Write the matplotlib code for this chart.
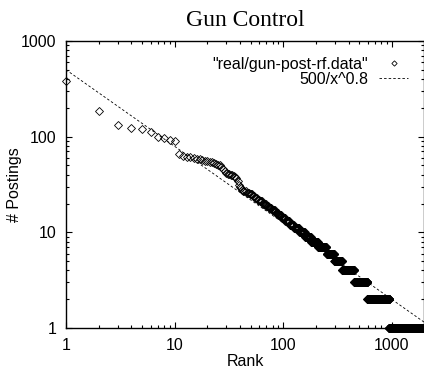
import numpy as np
import matplotlib
matplotlib.use("Agg")
import matplotlib.pyplot as plt
from matplotlib.ticker import LogLocator, NullFormatter, FixedFormatter, FixedLocator

# Postings for the 42 most active posters (rank 1 .. 42)
top_counts = [380, 185, 133, 122, 120, 111, 98, 96, 93, 91,
              66, 63, 62, 61, 60, 59, 58, 57, 56, 55,
              54, 54, 53, 52, 51, 50, 48, 46, 44, 42,
              41, 41, 40, 40, 39, 38, 37, 34, 31, 30,
              29, 28]
# Below that: posting count and how many posters share it
tail_counts = [27, 26, 25, 24, 23, 22, 21, 20, 19, 18, 17, 16, 15, 14,
               13, 12, 11, 10, 9, 8, 7, 6, 5, 4, 3, 2, 1]
tail_items = [3, 3, 4, 2, 3, 3, 4, 5, 4, 5, 6, 5, 7, 8,
              10, 11, 15, 18, 22, 28, 42, 45, 53, 102, 145, 350, 1005]

# Fitted power law  a / x^b
fit_a = 500
fit_b = 0.8

x_ticks = [1, 10, 100, 1000]
y_ticks = [1, 10, 100, 1000]


def rank_frequency(top, counts, items):
    """
    Build rank and count arrays from the top list and the count table
    """
    values = np.concatenate([np.array(top), np.repeat(counts, items)])
    ranks = np.arange(1, len(values) + 1)
    return ranks, values


def gun_plot(title="Gun Control", sized=(4.24, 3.71)):
    """
    Log-log rank/postings plot in the style of a gnuplot figure
    """
    ranks, values = rank_frequency(top_counts, tail_counts, tail_items)

    plt.rcParams["font.family"] = ["Liberation Sans", "DejaVu Sans"]
    fig = plt.figure(figsize=sized, dpi=100)
    ax = fig.add_axes([0.1557, 0.116, 0.8443, 0.7735])

    # data points are drawn on top of the border like gnuplot does
    ax.plot(ranks, values, linestyle="none", marker="D", markersize=3.6,
            markerfacecolor="none", markeredgecolor="black",
            markeredgewidth=0.6, label='"real/gun-post-rf.data"',
            clip_on=False, zorder=3)

    xs = np.logspace(0, np.log10(1980), 200)
    ax.plot(xs, fit_a / xs ** fit_b, color="black", linewidth=0.6,
            linestyle=(0, (3, 2.5)), label="500/x^0.8")

    ax.set_xscale("log")
    ax.set_yscale("log")
    ax.set_xlim(1, 1980)
    ax.set_ylim(1, 1000)

    # Ticks: gnuplot style, inward and mirrored
    ax.xaxis.set_major_locator(FixedLocator(x_ticks))
    ax.xaxis.set_major_formatter(FixedFormatter([str(t) for t in x_ticks]))
    ax.yaxis.set_major_locator(FixedLocator(y_ticks))
    ax.yaxis.set_major_formatter(FixedFormatter([str(t) for t in y_ticks]))
    ax.xaxis.set_minor_locator(LogLocator(base=10, subs=np.arange(2, 10)))
    ax.yaxis.set_minor_locator(LogLocator(base=10, subs=np.arange(2, 10)))
    ax.xaxis.set_minor_formatter(NullFormatter())
    ax.yaxis.set_minor_formatter(NullFormatter())
    ax.tick_params(which="both", direction="in", top=True, right=True,
                   labelsize=11.5, colors="black", width=0.8)
    ax.tick_params(which="major", length=4.5, pad=7)
    ax.tick_params(which="minor", length=2.2)
    for sp in ax.spines.values():
        sp.set_linewidth(1.0)

    ax.set_xlabel("Rank", fontsize=11.5, labelpad=1)
    ax.set_ylabel("# Postings", fontsize=11.5, labelpad=-1)
    ax.set_title(title, fontsize=17, family=["Liberation Serif", "DejaVu Serif"],
                 pad=11)

    ax.legend(loc="upper right", frameon=False, markerfirst=False,
              fontsize=11.5, handlelength=1.8, handletextpad=0.7,
              borderpad=0, borderaxespad=1.0, labelspacing=0.0,
              numpoints=1, markerscale=0.75)

    fig.savefig("out.png", dpi=100)


gun_plot()
